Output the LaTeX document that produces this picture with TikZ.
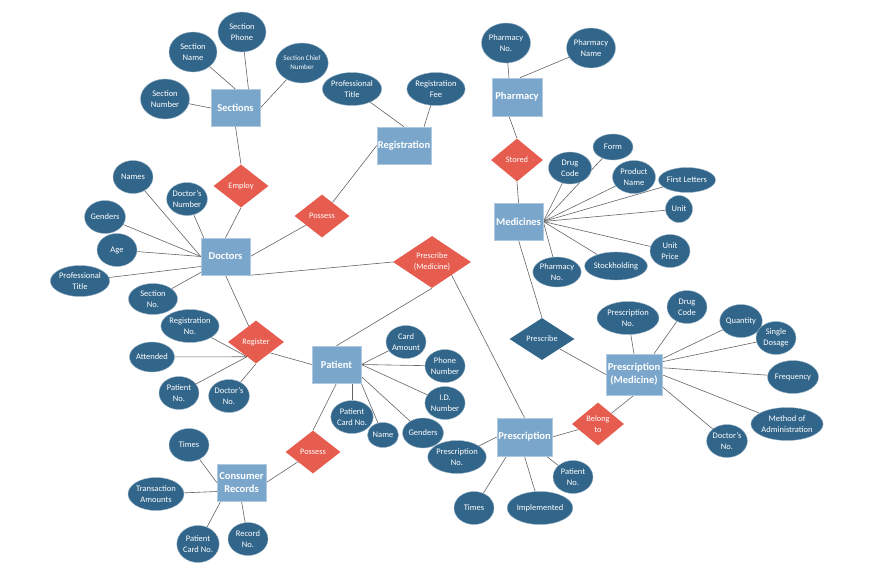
\documentclass[tikz,border=0pt]{standalone}
\usepackage{fontspec}
\setmainfont{Carlito}
\usetikzlibrary{shapes.geometric,backgrounds,calc}
\definecolor{entc}{RGB}{122,166,203}
\definecolor{attc}{RGB}{49,101,138}
\definecolor{relc}{RGB}{230,93,80}
\definecolor{lnc}{RGB}{100,100,100}
\begin{document}
\begin{tikzpicture}[x=1pt,y=-1pt,
 ent/.style={rectangle, fill=entc, draw=entc!60!white, line width=0.5pt, text=white,
   font=\bfseries\fontsize{10.5}{13}\selectfont, minimum width=49pt, minimum height=37pt,
   inner sep=0pt, align=center},
 att/.style={ellipse, fill=attc, draw=attc!50!white, line width=0.4pt, text=white,
   font=\fontsize{8.5}{11}\selectfont, inner sep=0pt, minimum width=40pt,
   minimum height=33pt, align=center},
 rel/.style={diamond, fill=relc, text=white, font=\fontsize{8.3}{11}\selectfont,
   inner sep=0pt, minimum width=55pt, minimum height=43pt, aspect=1.28, align=center},
 sz/.style 2 args={minimum width=#1pt, minimum height=#2pt},
 ln/.style={draw=lnc, line width=0.6pt}]
\useasboundingbox (0,0) rectangle (872,570);

% ---------------- Sections
\node[ent] (sec) at (235.5,108) {Sections};
\node[att,sz={48}{40}] (secphone) at (242,32) {Section\\Phone};
\node[att,sz={48}{40}] (secname) at (193,52) {Section\\Name};
\node[att,sz={49}{40}] (secnum) at (165,99) {Section\\Number};
\node[att,sz={49}{40},font=\fontsize{7}{9}\selectfont] (secchief) at (302,63) {Section Chief\\Number};
\node[rel] (employ) at (241,186) {Employ};

% ---------------- Doctors
\node[ent] (doc) at (225.5,256.5) {Doctors};
\node[att] (names) at (133,177) {Names};
\node[att] (docnum) at (187,199) {Doctor's\\Number};
\node[att] (genders) at (105,217) {Genders};
\node[att] (age) at (117,250) {Age};
\node[att,sz={58}{31}] (proftitle) at (80,281) {Professional\\Title};
\node[att,sz={49}{31}] (secno) at (153,299) {Section\\No.};
\node[rel] (possessA) at (322,216) {Possess};

% ---------------- Registration
\node[ent,minimum width=54pt] (reg) at (404,145.5) {Registration};
\node[att,sz={59}{33}] (regtitle) at (352,89) {Professional\\Title};
\node[att,sz={55}{33}] (regfee) at (436,89) {Registration\\Fee};

% ---------------- Pharmacy / Medicines
\node[ent,minimum width=50pt,minimum height=38pt] (pha) at (517,97) {Pharmacy};
\node[att,sz={49}{40}] (phano) at (506,43) {Pharmacy\\No.};
\node[att,sz={49}{40}] (phaname) at (591,48) {Pharmacy\\Name};
\node[rel,sz={52}{43},aspect=1.2] (stored) at (517,160) {Stored};
\node[ent] (med) at (518.5,221.5) {Medicines};
\node[att,sz={43}{32}] (drugcode) at (570,168) {Drug\\Code};
\node[att,sz={40}{26}] (form) at (613,147) {Form};
\node[att,sz={43}{33}] (prodname) at (634,177) {Product\\Name};
\node[att,sz={57}{25}] (firstl) at (687,180) {First Letters};
\node[att,sz={27}{27}] (unit) at (679,209) {Unit};
\node[att,sz={40}{33}] (unitprice) at (670,251) {Unit\\Price};
\node[att,sz={59}{28}] (stock) at (616,266) {Stockholding};
\node[att,sz={38}{30}] (medphano) at (557,272) {Pharmacy\\No.};
\node[rel,fill=attc,sz={65}{42},aspect=1.55] (prescribe) at (542,339) {Prescribe};

% ---------------- Prescription (Medicine)
\node[ent,minimum width=56pt,minimum height=41pt] (pm) at (634,374.5) {Prescription\\(Medicine)};
\node[att,sz={62}{33}] (pmno) at (628,318) {Prescription\\No.};
\node[att] (pmdrug) at (687,307) {Drug\\Code};
\node[att] (quantity) at (741,321) {Quantity};
\node[att] (single) at (776,338) {Single\\Dosage};
\node[att,sz={48}{33}] (freq) at (793,377) {Frequency};
\node[att,sz={68}{33}] (method) at (787,424) {Method of\\Administration};
\node[att] (pmdoc) at (727,441) {Doctor's\\No.};
\node[rel,sz={52}{43},aspect=1.2] (belong) at (598,424) {Belong\\to};

% ---------------- Prescription
\node[ent,minimum width=55pt,minimum height=38pt] (pr) at (524.5,437) {Prescription};
\node[att,sz={56}{33}] (prno) at (457,457) {Prescription\\No.};
\node[att] (prtimes) at (474,508) {Times};
\node[att,sz={63}{33}] (impl) at (540,508) {Implemented};
\node[att] (prpat) at (573,477) {Patient\\No.};
\node[rel,sz={78}{52},aspect=1.5] (presmed) at (432,262) {Prescribe\\(Medicine)};

% ---------------- Register
\node[rel,sz={56}{43}] (register) at (256,342) {Register};
\node[att,sz={56}{33}] (regno) at (190,326) {Registration\\No.};
\node[att,sz={43}{30}] (attended) at (152,357) {Attended};
\node[att] (patno) at (179,393) {Patient\\No.};
\node[att] (rdocno) at (229,396) {Doctor's\\No.};

% ---------------- Patient
\node[ent] (pat) at (336.5,364.5) {Patient};
\node[att] (card) at (406,342) {Card\\Amount};
\node[att] (phone) at (445,366) {Phone\\Number};
\node[att] (idn) at (445,403) {I.D.\\Number};
\node[att] (patcard) at (352,417) {Patient\\Card No.};
\node[att,sz={31}{25}] (pname) at (383,435) {Name};
\node[att,sz={40}{30}] (pgend) at (423,433) {Genders};
\node[rel] (possessB) at (313,452) {Possess};

% ---------------- Consumer Records
\node[ent] (cons) at (241.5,482.5) {Consumer\\Records};
\node[att] (ctimes) at (189,445) {Times};
\node[att,sz={56}{33}] (trans) at (156,494) {Transaction\\Amounts};
\node[att,sz={40}{37}] (ccard) at (198,544) {Patient\\Card No.};
\node[att] (recno) at (248,539) {Record\\No.};

\coordinate (rc) at ($(register.west)!0.68!(register.south)$);

\begin{scope}[on background layer]
% Sections
\draw[ln] (secnum) -- (sec.west);
\draw[ln] (secname) -- (sec.north);
\draw[ln] (secphone) -- ([xshift=13pt]sec.north);
\draw[ln] (secchief) -- (sec.east);
\draw[ln] (sec.south) -- (employ.north);
\draw[ln] (employ.south) -- (doc.north);
% Doctors
\draw[ln] (names) -- (doc.west);
\draw[ln] (docnum) -- ([xshift=3pt]doc.north west);
\draw[ln] (genders) -- (doc.west);
\draw[ln] (age) -- (doc.west);
\draw[ln] (proftitle) -- ([yshift=-10pt]doc.west);
\draw[ln] (secno) -- ([yshift=-16pt]doc.west);
\draw[ln] (doc.east) -- (possessA);
\draw[ln] (possessA) -- (reg.west);
\draw[ln] (doc.south east) -- (presmed.west);
\draw[ln] (doc.south) -- (register);
% Registration
\draw[ln] (regtitle) -- (reg.north);
\draw[ln] (regfee) -- ([xshift=20pt]reg.north);
% Pharmacy
\draw[ln] (phano) -- ([xshift=-8pt]pha.north);
\draw[ln] (phaname) -- ([xshift=3pt]pha.north);
\draw[ln] ([xshift=-8pt]pha.south) -- (stored.north);
\draw[ln] (stored.south) -- (med.north);
% Medicines
\foreach \a in {drugcode,form,prodname,firstl,unit,unitprice,stock,medphano}
  \draw[ln] (\a) -- (med.east);
\draw[ln] (med.south) -- (prescribe.north);
\draw[ln] (prescribe) -- (pm.west);
% Prescription (Medicine)
\draw[ln] (pmno) -- (pm.north);
\draw[ln] (pmdrug) -- ([xshift=20pt]pm.north);
\draw[ln] (quantity) -- ([yshift=-5pt]pm.north east);
\draw[ln] (single) -- ([yshift=-8pt]pm.north east);
\draw[ln] (freq) -- ([yshift=-14pt]pm.north east);
\draw[ln] (method) -- ([yshift=-21pt]pm.north east);
\draw[ln] (pmdoc) -- ([yshift=-33pt]pm.north east);
\draw[ln] (pm.south) -- (belong);
\draw[ln] (belong) -- (pr.east);
% Prescription
\draw[ln] (prno) -- (pr.west);
\draw[ln] (prtimes) -- ([xshift=-18pt]pr.south);
\draw[ln] (impl) -- (pr.south);
\draw[ln] (prpat) -- ([xshift=22pt]pr.south);
\draw[ln] (presmed.south east) -- (pr.north);
\draw[ln] (presmed.south) -- (pat.north);
% Register
\draw[ln] (regno) -- (rc);
\draw[ln] (attended) -- (rc);
\draw[ln] (patno) -- (rc);
\draw[ln] (rdocno) -- (register.south);
\draw[ln] (register.south east) -- (pat.west);
% Patient
\draw[ln] (card) -- (pat.east);
\draw[ln] (phone) -- (pat.east);
\draw[ln] (idn) -- (pat.east);
\draw[ln] (pgend) -- ([yshift=-12pt]pat.east);
\draw[ln] (pname) -- (pat.south east);
\draw[ln] (patcard) -- ([xshift=15.5pt]pat.south);
\draw[ln] (pat.south) -- (possessB.north);
\draw[ln] (possessB) -- (cons.east);
% Consumer Records
\draw[ln] (ctimes) -- (cons.west);
\draw[ln] (trans) -- ([yshift=-9pt]cons.west);
\draw[ln] (ccard) -- ([xshift=4pt]cons.south west);
\draw[ln] (recno) -- (cons.south);
\end{scope}
\end{tikzpicture}
\end{document}
